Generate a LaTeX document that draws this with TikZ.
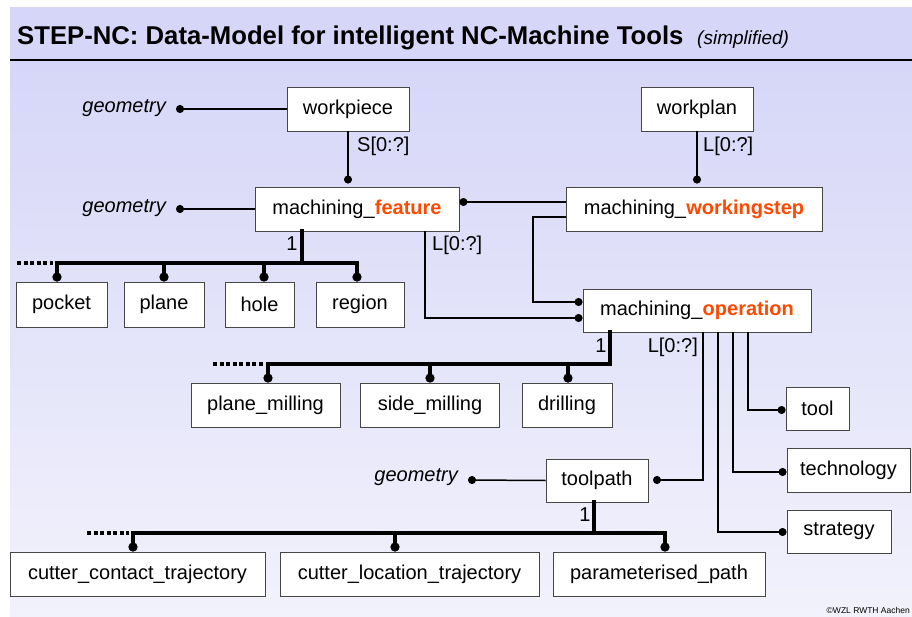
\documentclass[tikz,border=0pt]{standalone}
\usepackage{fontspec}
\setmainfont{Liberation Sans}
\usetikzlibrary{arrows.meta}
\definecolor{lavtop}{RGB}{214,214,248}
\definecolor{lavbot}{RGB}{242,242,252}
\definecolor{hot}{RGB}{255,72,0}
\definecolor{boxline}{RGB}{70,70,70}
\tikzset{
 ent/.style={draw=boxline, line width=0.9pt, fill=white, inner sep=0pt, font=\fontsize{20}{24}\selectfont},
 lab/.style={inner sep=0pt, font=\fontsize{20}{24}\selectfont},
 geo/.style={inner sep=0pt, font=\fontsize{20}{24}\selectfont\itshape},
 rel/.style={line width=1.5pt, -{Circle[length=8pt]}},
 bus/.style={line width=4pt, line cap=rect},
 busdrop/.style={line width=4pt, -{Circle[length=9pt]}},
 more/.style={line width=4pt, dash pattern=on 4pt off 2.5pt},
}
\begin{document}
\begin{tikzpicture}[x=1pt,y=-1pt]
\useasboundingbox (0,0) rectangle (912,617);
\fill[white] (0,0) rectangle (912,617);
\fill[lavtop] (10,7) rectangle (912,61);
\shade[top color=lavtop, bottom color=lavbot] (10,61) rectangle (912,617);
\draw[line width=1.5pt] (10,60) -- (912,60);

% title
\node[anchor=base west, inner sep=0pt, font=\fontsize{25.7}{30}\selectfont\bfseries] (title) at (17,45) {STEP-NC: Data-Model for intelligent NC-Machine Tools};
\node[anchor=base west, inner sep=0pt, font=\fontsize{19}{22}\selectfont\itshape] (simp) at (697,45) {(simplified)};
\node[anchor=base east, inner sep=0pt, font=\fontsize{8.5}{10}\selectfont] (copy) at (910,613) {©WZL RWTH Aachen};

% entities
\node[ent, minimum width=122pt, minimum height=44pt] (wp) at (348,109) {workpiece};
\node[ent, minimum width=204pt, minimum height=44pt] (mf) at (357,209) {machining\_\textbf{\color{hot}feature}};
\node[ent, minimum width=112pt, minimum height=44pt] (wpl) at (697,109) {workplan};
\node[ent, minimum width=256pt, minimum height=44pt] (ws) at (694,209) {machining\_\textbf{\color{hot}workingstep}};
\node[ent, minimum width=228pt, minimum height=43pt] (op) at (697,310.5) {machining\_\textbf{\color{hot}operation}};

\node[ent, minimum width=91pt, minimum height=45pt] (pocket) at (61.5,304.5) {pocket};
\node[ent, minimum width=80pt, minimum height=45pt] (plane) at (164,304.5) {plane};
\node[ent, minimum width=69pt, minimum height=45pt] (hole) at (259.5,304.5) {hole};
\node[ent, minimum width=88pt, minimum height=45pt] (region) at (360,304.5) {region};

\node[ent, minimum width=149pt, minimum height=44pt] (pm) at (265.5,405) {plane\_milling};
\node[ent, minimum width=139pt, minimum height=44pt] (sm) at (430,405) {side\_milling};
\node[ent, minimum width=90pt, minimum height=44pt] (dr) at (567,405) {drilling};

\node[ent, minimum width=63pt, minimum height=43pt] (tool) at (817.5,408.5) {tool};
\node[ent, minimum width=123pt, minimum height=44pt] (tech) at (848.5,470) {technology};
\node[ent, minimum width=104pt, minimum height=43pt] (strat) at (839,531.5) {strategy};
\node[ent, minimum width=102pt, minimum height=43pt] (tp) at (597,480.5) {toolpath};

\node[ent, minimum width=255pt, minimum height=44pt] (cct) at (137.5,574) {cutter\_contact\_trajectory};
\node[ent, minimum width=259pt, minimum height=44pt] (clt) at (409.5,574) {cutter\_location\_trajectory};
\node[ent, minimum width=212pt, minimum height=44pt] (pp) at (659,574) {parameterised\_path};

% geometry attributes
\node[geo, anchor=east] (geo1) at (166,108) {geometry};
\node[geo, anchor=east] (geo2) at (166,208) {geometry};
\node[geo, anchor=east] (geo3) at (458,477) {geometry};
\coordinate (g1) at (176,109);
\coordinate (g2) at (176,209);
\coordinate (g3) at (468,480);
\draw[rel] (wp.west) -- (g1);
\draw[rel] (mf.west) -- (g2);
\draw[rel] (tp.west) -- (g3);

% workpiece -> feature
\draw[rel] (wp.south) -- ([yshift=3pt]wp.south |- mf.north);
\node[lab, anchor=west] (l1) at (357,146) {S[0:?]};
% workplan -> workingstep
\draw[rel] (wpl.south) -- ([yshift=3pt]wpl.south |- ws.north);
\node[lab, anchor=west] (l2) at (703,146) {L[0:?]};
% workingstep -> feature
\draw[rel] ([yshift=7pt]ws.west) -- ([yshift=7pt]mf.east);
% workingstep -> operation
\coordinate (wsk) at (533,217);
\draw[rel] ([yshift=-8pt]ws.west) -- (wsk) |- ([yshift=8.5pt]op.west);
% feature -> operation
\draw[rel] ([xshift=68pt]mf.south) |- ([yshift=-7.5pt]op.west);
\node[lab, anchor=west] (l3) at (432,245) {L[0:?]};

% feature subtypes
\coordinate (fb) at (302,263);
\coordinate (fd1) at (57,263);
\coordinate (fd2) at (164,263);
\coordinate (fd3) at (264,263);
\coordinate (fd4) at (357,263);
\coordinate (fdots) at (17,263);
\draw[bus] (mf.south -| fb) -- (fb);
\draw[bus] (fd1) -- (fd4);
\draw[busdrop] (fd1) -- (fd1 |- pocket.north);
\draw[busdrop] (fd2) -- (fd2 |- plane.north);
\draw[busdrop] (fd3) -- (fd3 |- hole.north);
\draw[busdrop] (fd4) -- (fd4 |- region.north);
\draw[more] (fdots) -- ([xshift=-4pt]fd1);
\node[lab] (one1) at (292,244) {1};

% operation subtypes
\coordinate (ob) at (610,364);
\coordinate (od1) at (268,364);
\coordinate (od2) at (430,364);
\coordinate (od3) at (568,364);
\coordinate (odots) at (213,364);
\draw[bus] (op.south -| ob) -- (ob);
\draw[bus] (od1) -- (ob);
\draw[busdrop] (od1) -- (od1 |- pm.north);
\draw[busdrop] (od2) -- (od2 |- sm.north);
\draw[busdrop] (od3) -- (od3 |- dr.north);
\draw[more] (odots) -- ([xshift=-4pt]od1);
\node[lab] (one2) at (601,346) {1};

% operation attributes
\coordinate (tpr) at (653,480);
\draw[rel] ([xshift=6pt]op.south) |- (tpr);
\draw[rel] ([xshift=21pt]op.south) |- ([yshift=-0.5pt]strat.west);
\draw[rel] ([xshift=36pt]op.south) |- ([yshift=-2pt]tech.west);
\draw[rel] ([xshift=51pt]op.south) |- ([yshift=-1.5pt]tool.west);
\node[lab, anchor=east] (l4) at (698,347) {L[0:?]};

% toolpath subtypes
\coordinate (tb) at (594,533);
\coordinate (td1) at (133,533);
\coordinate (td2) at (395,533);
\coordinate (td3) at (665,533);
\coordinate (tdots) at (87,533);
\draw[bus] (tp.south -| tb) -- (tb);
\draw[bus] (td1) -- (td3);
\draw[busdrop] (td1) -- (td1 |- cct.north);
\draw[busdrop] (td2) -- (td2 |- clt.north);
\draw[busdrop] (td3) -- (td3 |- pp.north);
\draw[more] (tdots) -- ([xshift=-4pt]td1);
\node[lab] (one3) at (585,515) {1};
\end{tikzpicture}
\end{document}
